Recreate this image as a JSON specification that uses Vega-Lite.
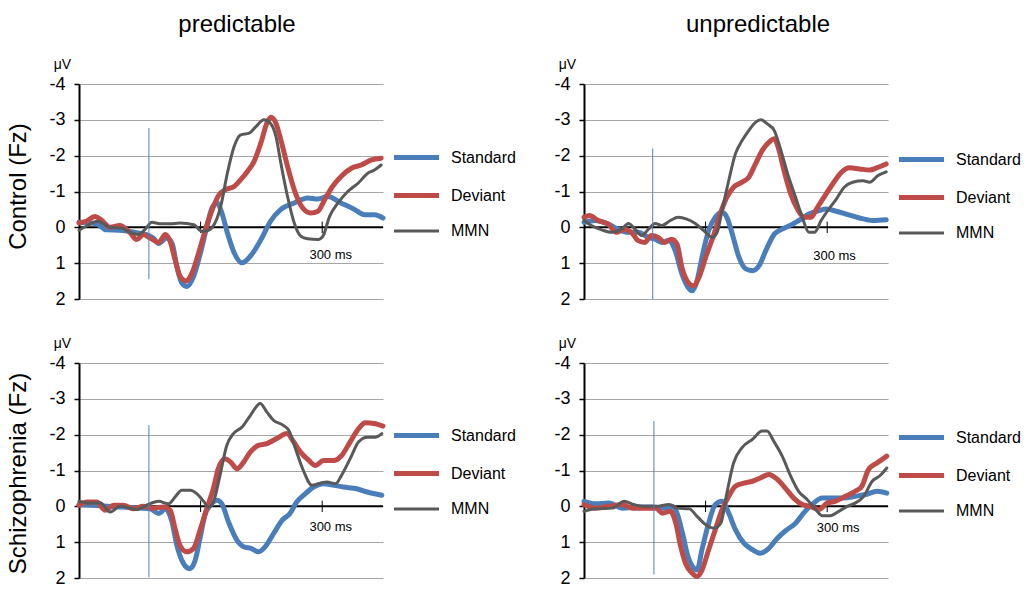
{
"$schema": "https://vega.github.io/schema/vega-lite/v6.json",
"background": "white",
"padding": {"left": 6, "top": 13, "right": 0, "bottom": 0},
"config": {
  "font": "Liberation Sans",
  "view": {"stroke": null},
  "title": {"fontSize": 24, "fontWeight": "normal", "color": "black", "font": "Liberation Sans"},
  "axisY": {"grid": true, "gridColor": "#a6a6a6", "gridWidth": 1, "domainColor": "black", "domainWidth": 2, "tickColor": "black", "tickSize": 5, "tickWidth": 1.5, "labelFontSize": 18, "labelColor": "black", "labelPadding": 9, "labelFont": "Liberation Sans", "titleFont": "Liberation Sans", "titleFontSize": 14, "titleFontWeight": "normal", "titleColor": "black", "titleAngle": 0, "titleX": -17, "titleY": -16, "titleAlign": "center", "titleBaseline": "alphabetic"},
  "legend": {"symbolType": "M-4,0H4", "symbolSize": 127, "labelFontSize": 16, "labelColor": "black", "labelFont": "Liberation Sans", "labelOffset": 26, "rowPadding": 17, "symbolOpacity": 1}
},
"datasets": {"erp": [
{"p":"TL","s":"Standard","t":-100,"v":-0.14},{"p":"TL","s":"Standard","t":-71,"v":-0.1},{"p":"TL","s":"Standard","t":-55,"v":0.07},{"p":"TL","s":"Standard","t":-33,"v":0.08},{"p":"TL","s":"Standard","t":-5,"v":0.15},{"p":"TL","s":"Standard","t":11,"v":0.2},{"p":"TL","s":"Standard","t":22,"v":0.3},{"p":"TL","s":"Standard","t":31,"v":0.45},{"p":"TL","s":"Standard","t":44,"v":0.3},{"p":"TL","s":"Standard","t":53,"v":0.44},{"p":"TL","s":"Standard","t":61,"v":1.1},{"p":"TL","s":"Standard","t":69,"v":1.55},{"p":"TL","s":"Standard","t":78,"v":1.65},{"p":"TL","s":"Standard","t":89,"v":1.35},{"p":"TL","s":"Standard","t":100,"v":0.7},{"p":"TL","s":"Standard","t":111,"v":-0.07},{"p":"TL","s":"Standard","t":119,"v":-0.55},{"p":"TL","s":"Standard","t":127,"v":-0.68},{"p":"TL","s":"Standard","t":135,"v":-0.4},{"p":"TL","s":"Standard","t":144,"v":0.15},{"p":"TL","s":"Standard","t":155,"v":0.7},{"p":"TL","s":"Standard","t":168,"v":0.99},{"p":"TL","s":"Standard","t":182,"v":0.8},{"p":"TL","s":"Standard","t":199,"v":0.35},{"p":"TL","s":"Standard","t":215,"v":-0.17},{"p":"TL","s":"Standard","t":232,"v":-0.5},{"p":"TL","s":"Standard","t":254,"v":-0.68},{"p":"TL","s":"Standard","t":276,"v":-0.82},{"p":"TL","s":"Standard","t":293,"v":-0.79},{"p":"TL","s":"Standard","t":309,"v":-0.86},{"p":"TL","s":"Standard","t":331,"v":-0.68},{"p":"TL","s":"Standard","t":353,"v":-0.5},{"p":"TL","s":"Standard","t":370,"v":-0.35},{"p":"TL","s":"Standard","t":386,"v":-0.35},{"p":"TL","s":"Standard","t":400,"v":-0.26},
{"p":"TL","s":"Deviant","t":-100,"v":-0.12},{"p":"TL","s":"Deviant","t":-88,"v":-0.17},{"p":"TL","s":"Deviant","t":-74,"v":-0.3},{"p":"TL","s":"Deviant","t":-63,"v":-0.2},{"p":"TL","s":"Deviant","t":-49,"v":0},{"p":"TL","s":"Deviant","t":-33,"v":-0.05},{"p":"TL","s":"Deviant","t":-16,"v":0.15},{"p":"TL","s":"Deviant","t":-5,"v":0.34},{"p":"TL","s":"Deviant","t":6,"v":0.2},{"p":"TL","s":"Deviant","t":17,"v":0.3},{"p":"TL","s":"Deviant","t":31,"v":0.42},{"p":"TL","s":"Deviant","t":42,"v":0.2},{"p":"TL","s":"Deviant","t":50,"v":0.4},{"p":"TL","s":"Deviant","t":58,"v":0.9},{"p":"TL","s":"Deviant","t":66,"v":1.36},{"p":"TL","s":"Deviant","t":76,"v":1.5},{"p":"TL","s":"Deviant","t":86,"v":1.27},{"p":"TL","s":"Deviant","t":97,"v":0.7},{"p":"TL","s":"Deviant","t":108,"v":0.06},{"p":"TL","s":"Deviant","t":119,"v":-0.49},{"p":"TL","s":"Deviant","t":130,"v":-0.9},{"p":"TL","s":"Deviant","t":141,"v":-1.05},{"p":"TL","s":"Deviant","t":155,"v":-1.14},{"p":"TL","s":"Deviant","t":166,"v":-1.33},{"p":"TL","s":"Deviant","t":177,"v":-1.56},{"p":"TL","s":"Deviant","t":188,"v":-1.84},{"p":"TL","s":"Deviant","t":199,"v":-2.35},{"p":"TL","s":"Deviant","t":210,"v":-2.95},{"p":"TL","s":"Deviant","t":216,"v":-3.07},{"p":"TL","s":"Deviant","t":224,"v":-2.9},{"p":"TL","s":"Deviant","t":232,"v":-2.44},{"p":"TL","s":"Deviant","t":243,"v":-1.7},{"p":"TL","s":"Deviant","t":254,"v":-1.05},{"p":"TL","s":"Deviant","t":268,"v":-0.54},{"p":"TL","s":"Deviant","t":281,"v":-0.4},{"p":"TL","s":"Deviant","t":293,"v":-0.45},{"p":"TL","s":"Deviant","t":304,"v":-0.77},{"p":"TL","s":"Deviant","t":317,"v":-1.14},{"p":"TL","s":"Deviant","t":331,"v":-1.42},{"p":"TL","s":"Deviant","t":348,"v":-1.65},{"p":"TL","s":"Deviant","t":364,"v":-1.74},{"p":"TL","s":"Deviant","t":381,"v":-1.88},{"p":"TL","s":"Deviant","t":397,"v":-1.93},
{"p":"TL","s":"MMN","t":-100,"v":0.08},{"p":"TL","s":"MMN","t":-88,"v":-0.03},{"p":"TL","s":"MMN","t":-69,"v":-0.17},{"p":"TL","s":"MMN","t":-49,"v":0},{"p":"TL","s":"MMN","t":-30,"v":0.02},{"p":"TL","s":"MMN","t":-16,"v":0.14},{"p":"TL","s":"MMN","t":-2,"v":0.2},{"p":"TL","s":"MMN","t":9,"v":0.05},{"p":"TL","s":"MMN","t":20,"v":-0.14},{"p":"TL","s":"MMN","t":33,"v":-0.1},{"p":"TL","s":"MMN","t":50,"v":-0.1},{"p":"TL","s":"MMN","t":66,"v":-0.12},{"p":"TL","s":"MMN","t":89,"v":-0.07},{"p":"TL","s":"MMN","t":102,"v":0.11},{"p":"TL","s":"MMN","t":113,"v":0.08},{"p":"TL","s":"MMN","t":122,"v":-0.07},{"p":"TL","s":"MMN","t":133,"v":-0.58},{"p":"TL","s":"MMN","t":144,"v":-1.51},{"p":"TL","s":"MMN","t":155,"v":-2.25},{"p":"TL","s":"MMN","t":166,"v":-2.58},{"p":"TL","s":"MMN","t":180,"v":-2.63},{"p":"TL","s":"MMN","t":191,"v":-2.81},{"p":"TL","s":"MMN","t":204,"v":-3.0},{"p":"TL","s":"MMN","t":215,"v":-2.9},{"p":"TL","s":"MMN","t":224,"v":-2.53},{"p":"TL","s":"MMN","t":232,"v":-1.79},{"p":"TL","s":"MMN","t":243,"v":-0.86},{"p":"TL","s":"MMN","t":254,"v":-0.12},{"p":"TL","s":"MMN","t":265,"v":0.25},{"p":"TL","s":"MMN","t":276,"v":0.32},{"p":"TL","s":"MMN","t":293,"v":0.34},{"p":"TL","s":"MMN","t":301,"v":0.25},{"p":"TL","s":"MMN","t":312,"v":-0.3},{"p":"TL","s":"MMN","t":326,"v":-0.68},{"p":"TL","s":"MMN","t":342,"v":-1.0},{"p":"TL","s":"MMN","t":359,"v":-1.23},{"p":"TL","s":"MMN","t":375,"v":-1.51},{"p":"TL","s":"MMN","t":386,"v":-1.6},{"p":"TL","s":"MMN","t":397,"v":-1.74},
{"p":"TR","s":"Standard","t":-100,"v":-0.14},{"p":"TR","s":"Standard","t":-82,"v":-0.19},{"p":"TR","s":"Standard","t":-60,"v":-0.09},{"p":"TR","s":"Standard","t":-44,"v":0.05},{"p":"TR","s":"Standard","t":-27,"v":0.14},{"p":"TR","s":"Standard","t":-11,"v":0.14},{"p":"TR","s":"Standard","t":6,"v":0.28},{"p":"TR","s":"Standard","t":17,"v":0.33},{"p":"TR","s":"Standard","t":28,"v":0.42},{"p":"TR","s":"Standard","t":39,"v":0.37},{"p":"TR","s":"Standard","t":50,"v":0.65},{"p":"TR","s":"Standard","t":61,"v":1.3},{"p":"TR","s":"Standard","t":71,"v":1.67},{"p":"TR","s":"Standard","t":78,"v":1.77},{"p":"TR","s":"Standard","t":86,"v":1.49},{"p":"TR","s":"Standard","t":94,"v":0.84},{"p":"TR","s":"Standard","t":105,"v":0.09},{"p":"TR","s":"Standard","t":116,"v":-0.28},{"p":"TR","s":"Standard","t":127,"v":-0.42},{"p":"TR","s":"Standard","t":135,"v":-0.28},{"p":"TR","s":"Standard","t":144,"v":0.19},{"p":"TR","s":"Standard","t":155,"v":0.84},{"p":"TR","s":"Standard","t":166,"v":1.16},{"p":"TR","s":"Standard","t":177,"v":1.21},{"p":"TR","s":"Standard","t":188,"v":1.07},{"p":"TR","s":"Standard","t":199,"v":0.65},{"p":"TR","s":"Standard","t":213,"v":0.19},{"p":"TR","s":"Standard","t":226,"v":0.05},{"p":"TR","s":"Standard","t":243,"v":-0.09},{"p":"TR","s":"Standard","t":257,"v":-0.23},{"p":"TR","s":"Standard","t":270,"v":-0.37},{"p":"TR","s":"Standard","t":287,"v":-0.47},{"p":"TR","s":"Standard","t":298,"v":-0.51},{"p":"TR","s":"Standard","t":315,"v":-0.45},{"p":"TR","s":"Standard","t":331,"v":-0.37},{"p":"TR","s":"Standard","t":353,"v":-0.26},{"p":"TR","s":"Standard","t":375,"v":-0.19},{"p":"TR","s":"Standard","t":397,"v":-0.21},
{"p":"TR","s":"Deviant","t":-100,"v":-0.28},{"p":"TR","s":"Deviant","t":-91,"v":-0.33},{"p":"TR","s":"Deviant","t":-77,"v":-0.19},{"p":"TR","s":"Deviant","t":-60,"v":-0.09},{"p":"TR","s":"Deviant","t":-47,"v":0.14},{"p":"TR","s":"Deviant","t":-33,"v":0.05},{"p":"TR","s":"Deviant","t":-22,"v":0.14},{"p":"TR","s":"Deviant","t":-11,"v":0.37},{"p":"TR","s":"Deviant","t":0,"v":0.42},{"p":"TR","s":"Deviant","t":11,"v":0.23},{"p":"TR","s":"Deviant","t":22,"v":0.28},{"p":"TR","s":"Deviant","t":33,"v":0.42},{"p":"TR","s":"Deviant","t":44,"v":0.33},{"p":"TR","s":"Deviant","t":53,"v":0.47},{"p":"TR","s":"Deviant","t":61,"v":1.12},{"p":"TR","s":"Deviant","t":71,"v":1.53},{"p":"TR","s":"Deviant","t":80,"v":1.63},{"p":"TR","s":"Deviant","t":89,"v":1.4},{"p":"TR","s":"Deviant","t":100,"v":0.84},{"p":"TR","s":"Deviant","t":113,"v":0.23},{"p":"TR","s":"Deviant","t":124,"v":-0.37},{"p":"TR","s":"Deviant","t":135,"v":-0.84},{"p":"TR","s":"Deviant","t":146,"v":-1.12},{"p":"TR","s":"Deviant","t":160,"v":-1.26},{"p":"TR","s":"Deviant","t":171,"v":-1.4},{"p":"TR","s":"Deviant","t":182,"v":-1.77},{"p":"TR","s":"Deviant","t":193,"v":-2.14},{"p":"TR","s":"Deviant","t":204,"v":-2.37},{"p":"TR","s":"Deviant","t":213,"v":-2.47},{"p":"TR","s":"Deviant","t":221,"v":-2.14},{"p":"TR","s":"Deviant","t":229,"v":-1.58},{"p":"TR","s":"Deviant","t":240,"v":-0.93},{"p":"TR","s":"Deviant","t":251,"v":-0.51},{"p":"TR","s":"Deviant","t":262,"v":-0.28},{"p":"TR","s":"Deviant","t":273,"v":-0.28},{"p":"TR","s":"Deviant","t":284,"v":-0.56},{"p":"TR","s":"Deviant","t":298,"v":-0.93},{"p":"TR","s":"Deviant","t":309,"v":-1.21},{"p":"TR","s":"Deviant","t":323,"v":-1.53},{"p":"TR","s":"Deviant","t":337,"v":-1.66},{"p":"TR","s":"Deviant","t":353,"v":-1.63},{"p":"TR","s":"Deviant","t":370,"v":-1.6},{"p":"TR","s":"Deviant","t":383,"v":-1.67},{"p":"TR","s":"Deviant","t":397,"v":-1.77},
{"p":"TR","s":"MMN","t":-100,"v":-0.19},{"p":"TR","s":"MMN","t":-88,"v":-0.05},{"p":"TR","s":"MMN","t":-71,"v":0.07},{"p":"TR","s":"MMN","t":-55,"v":0.14},{"p":"TR","s":"MMN","t":-38,"v":0.05},{"p":"TR","s":"MMN","t":-27,"v":-0.11},{"p":"TR","s":"MMN","t":-16,"v":0.05},{"p":"TR","s":"MMN","t":-5,"v":0.23},{"p":"TR","s":"MMN","t":6,"v":0.05},{"p":"TR","s":"MMN","t":17,"v":-0.11},{"p":"TR","s":"MMN","t":28,"v":-0.05},{"p":"TR","s":"MMN","t":42,"v":-0.19},{"p":"TR","s":"MMN","t":55,"v":-0.28},{"p":"TR","s":"MMN","t":69,"v":-0.23},{"p":"TR","s":"MMN","t":83,"v":-0.11},{"p":"TR","s":"MMN","t":97,"v":0.09},{"p":"TR","s":"MMN","t":111,"v":0.28},{"p":"TR","s":"MMN","t":119,"v":0.14},{"p":"TR","s":"MMN","t":127,"v":-0.47},{"p":"TR","s":"MMN","t":138,"v":-1.3},{"p":"TR","s":"MMN","t":149,"v":-2.05},{"p":"TR","s":"MMN","t":160,"v":-2.42},{"p":"TR","s":"MMN","t":171,"v":-2.7},{"p":"TR","s":"MMN","t":182,"v":-2.93},{"p":"TR","s":"MMN","t":191,"v":-3.0},{"p":"TR","s":"MMN","t":202,"v":-2.88},{"p":"TR","s":"MMN","t":213,"v":-2.7},{"p":"TR","s":"MMN","t":224,"v":-2.14},{"p":"TR","s":"MMN","t":235,"v":-1.49},{"p":"TR","s":"MMN","t":248,"v":-0.84},{"p":"TR","s":"MMN","t":259,"v":-0.28},{"p":"TR","s":"MMN","t":270,"v":0.14},{"p":"TR","s":"MMN","t":279,"v":0.14},{"p":"TR","s":"MMN","t":290,"v":-0.19},{"p":"TR","s":"MMN","t":301,"v":-0.47},{"p":"TR","s":"MMN","t":315,"v":-0.79},{"p":"TR","s":"MMN","t":328,"v":-1.12},{"p":"TR","s":"MMN","t":342,"v":-1.26},{"p":"TR","s":"MMN","t":359,"v":-1.3},{"p":"TR","s":"MMN","t":370,"v":-1.26},{"p":"TR","s":"MMN","t":383,"v":-1.44},{"p":"TR","s":"MMN","t":397,"v":-1.55},
{"p":"BL","s":"Standard","t":-100,"v":-0.05},{"p":"BL","s":"Standard","t":-76,"v":-0.03},{"p":"BL","s":"Standard","t":-54,"v":0},{"p":"BL","s":"Standard","t":-27,"v":0.02},{"p":"BL","s":"Standard","t":0,"v":0.05},{"p":"BL","s":"Standard","t":17,"v":0.07},{"p":"BL","s":"Standard","t":31,"v":0.2},{"p":"BL","s":"Standard","t":42,"v":0.07},{"p":"BL","s":"Standard","t":53,"v":0.44},{"p":"BL","s":"Standard","t":61,"v":1.09},{"p":"BL","s":"Standard","t":72,"v":1.6},{"p":"BL","s":"Standard","t":82,"v":1.74},{"p":"BL","s":"Standard","t":91,"v":1.51},{"p":"BL","s":"Standard","t":99,"v":0.9},{"p":"BL","s":"Standard","t":107,"v":0.25},{"p":"BL","s":"Standard","t":116,"v":-0.03},{"p":"BL","s":"Standard","t":127,"v":-0.17},{"p":"BL","s":"Standard","t":135,"v":-0.07},{"p":"BL","s":"Standard","t":146,"v":0.44},{"p":"BL","s":"Standard","t":160,"v":0.95},{"p":"BL","s":"Standard","t":171,"v":1.13},{"p":"BL","s":"Standard","t":184,"v":1.18},{"p":"BL","s":"Standard","t":195,"v":1.27},{"p":"BL","s":"Standard","t":206,"v":1.13},{"p":"BL","s":"Standard","t":220,"v":0.76},{"p":"BL","s":"Standard","t":234,"v":0.39},{"p":"BL","s":"Standard","t":247,"v":0.2},{"p":"BL","s":"Standard","t":258,"v":-0.12},{"p":"BL","s":"Standard","t":272,"v":-0.35},{"p":"BL","s":"Standard","t":286,"v":-0.54},{"p":"BL","s":"Standard","t":302,"v":-0.63},{"p":"BL","s":"Standard","t":319,"v":-0.59},{"p":"BL","s":"Standard","t":335,"v":-0.54},{"p":"BL","s":"Standard","t":357,"v":-0.49},{"p":"BL","s":"Standard","t":374,"v":-0.4},{"p":"BL","s":"Standard","t":398,"v":-0.31},
{"p":"BL","s":"Deviant","t":-100,"v":-0.03},{"p":"BL","s":"Deviant","t":-87,"v":-0.12},{"p":"BL","s":"Deviant","t":-71,"v":-0.12},{"p":"BL","s":"Deviant","t":-57,"v":0.11},{"p":"BL","s":"Deviant","t":-43,"v":-0.03},{"p":"BL","s":"Deviant","t":-27,"v":-0.03},{"p":"BL","s":"Deviant","t":-11,"v":0.07},{"p":"BL","s":"Deviant","t":6,"v":0},{"p":"BL","s":"Deviant","t":22,"v":0.05},{"p":"BL","s":"Deviant","t":39,"v":0.02},{"p":"BL","s":"Deviant","t":50,"v":0.11},{"p":"BL","s":"Deviant","t":58,"v":0.62},{"p":"BL","s":"Deviant","t":66,"v":1.09},{"p":"BL","s":"Deviant","t":77,"v":1.27},{"p":"BL","s":"Deviant","t":88,"v":1.18},{"p":"BL","s":"Deviant","t":99,"v":0.67},{"p":"BL","s":"Deviant","t":110,"v":0.07},{"p":"BL","s":"Deviant","t":121,"v":-0.49},{"p":"BL","s":"Deviant","t":129,"v":-1.05},{"p":"BL","s":"Deviant","t":140,"v":-1.33},{"p":"BL","s":"Deviant","t":149,"v":-1.24},{"p":"BL","s":"Deviant","t":160,"v":-1.05},{"p":"BL","s":"Deviant","t":171,"v":-1.24},{"p":"BL","s":"Deviant","t":182,"v":-1.52},{"p":"BL","s":"Deviant","t":195,"v":-1.7},{"p":"BL","s":"Deviant","t":209,"v":-1.75},{"p":"BL","s":"Deviant","t":225,"v":-1.89},{"p":"BL","s":"Deviant","t":242,"v":-2.03},{"p":"BL","s":"Deviant","t":253,"v":-1.8},{"p":"BL","s":"Deviant","t":264,"v":-1.52},{"p":"BL","s":"Deviant","t":278,"v":-1.28},{"p":"BL","s":"Deviant","t":289,"v":-1.14},{"p":"BL","s":"Deviant","t":302,"v":-1.28},{"p":"BL","s":"Deviant","t":319,"v":-1.28},{"p":"BL","s":"Deviant","t":332,"v":-1.42},{"p":"BL","s":"Deviant","t":346,"v":-1.8},{"p":"BL","s":"Deviant","t":360,"v":-2.17},{"p":"BL","s":"Deviant","t":371,"v":-2.33},{"p":"BL","s":"Deviant","t":385,"v":-2.31},{"p":"BL","s":"Deviant","t":400,"v":-2.24},
{"p":"BL","s":"MMN","t":-100,"v":-0.14},{"p":"BL","s":"MMN","t":-82,"v":-0.09},{"p":"BL","s":"MMN","t":-65,"v":-0.1},{"p":"BL","s":"MMN","t":-49,"v":0.16},{"p":"BL","s":"MMN","t":-32,"v":0},{"p":"BL","s":"MMN","t":-16,"v":0.05},{"p":"BL","s":"MMN","t":-5,"v":0.09},{"p":"BL","s":"MMN","t":11,"v":-0.03},{"p":"BL","s":"MMN","t":31,"v":-0.14},{"p":"BL","s":"MMN","t":47,"v":-0.07},{"p":"BL","s":"MMN","t":58,"v":-0.26},{"p":"BL","s":"MMN","t":69,"v":-0.45},{"p":"BL","s":"MMN","t":83,"v":-0.45},{"p":"BL","s":"MMN","t":94,"v":-0.35},{"p":"BL","s":"MMN","t":105,"v":-0.14},{"p":"BL","s":"MMN","t":113,"v":0.02},{"p":"BL","s":"MMN","t":121,"v":-0.12},{"p":"BL","s":"MMN","t":132,"v":-0.87},{"p":"BL","s":"MMN","t":143,"v":-1.7},{"p":"BL","s":"MMN","t":154,"v":-2.03},{"p":"BL","s":"MMN","t":168,"v":-2.21},{"p":"BL","s":"MMN","t":182,"v":-2.54},{"p":"BL","s":"MMN","t":198,"v":-2.87},{"p":"BL","s":"MMN","t":209,"v":-2.63},{"p":"BL","s":"MMN","t":220,"v":-2.4},{"p":"BL","s":"MMN","t":234,"v":-2.28},{"p":"BL","s":"MMN","t":245,"v":-2.12},{"p":"BL","s":"MMN","t":256,"v":-1.61},{"p":"BL","s":"MMN","t":269,"v":-1.0},{"p":"BL","s":"MMN","t":283,"v":-0.59},{"p":"BL","s":"MMN","t":294,"v":-0.63},{"p":"BL","s":"MMN","t":308,"v":-0.68},{"p":"BL","s":"MMN","t":322,"v":-0.63},{"p":"BL","s":"MMN","t":332,"v":-0.87},{"p":"BL","s":"MMN","t":346,"v":-1.33},{"p":"BL","s":"MMN","t":360,"v":-1.8},{"p":"BL","s":"MMN","t":374,"v":-1.93},{"p":"BL","s":"MMN","t":387,"v":-1.93},{"p":"BL","s":"MMN","t":398,"v":-2.03},
{"p":"BR","s":"Standard","t":-100,"v":-0.14},{"p":"BR","s":"Standard","t":-81,"v":-0.07},{"p":"BR","s":"Standard","t":-59,"v":-0.09},{"p":"BR","s":"Standard","t":-37,"v":0.05},{"p":"BR","s":"Standard","t":-10,"v":0.02},{"p":"BR","s":"Standard","t":12,"v":0.02},{"p":"BR","s":"Standard","t":29,"v":0.05},{"p":"BR","s":"Standard","t":45,"v":0},{"p":"BR","s":"Standard","t":53,"v":0.19},{"p":"BR","s":"Standard","t":62,"v":0.75},{"p":"BR","s":"Standard","t":71,"v":1.4},{"p":"BR","s":"Standard","t":81,"v":1.73},{"p":"BR","s":"Standard","t":86,"v":1.78},{"p":"BR","s":"Standard","t":94,"v":1.21},{"p":"BR","s":"Standard","t":105,"v":0.47},{"p":"BR","s":"Standard","t":116,"v":-0.05},{"p":"BR","s":"Standard","t":127,"v":-0.14},{"p":"BR","s":"Standard","t":138,"v":0.19},{"p":"BR","s":"Standard","t":149,"v":0.65},{"p":"BR","s":"Standard","t":163,"v":1.03},{"p":"BR","s":"Standard","t":177,"v":1.21},{"p":"BR","s":"Standard","t":190,"v":1.31},{"p":"BR","s":"Standard","t":204,"v":1.17},{"p":"BR","s":"Standard","t":218,"v":0.89},{"p":"BR","s":"Standard","t":234,"v":0.65},{"p":"BR","s":"Standard","t":248,"v":0.47},{"p":"BR","s":"Standard","t":261,"v":0.19},{"p":"BR","s":"Standard","t":275,"v":-0.05},{"p":"BR","s":"Standard","t":292,"v":-0.23},{"p":"BR","s":"Standard","t":308,"v":-0.23},{"p":"BR","s":"Standard","t":327,"v":-0.23},{"p":"BR","s":"Standard","t":346,"v":-0.28},{"p":"BR","s":"Standard","t":363,"v":-0.33},{"p":"BR","s":"Standard","t":382,"v":-0.42},{"p":"BR","s":"Standard","t":398,"v":-0.37},
{"p":"BR","s":"Deviant","t":-100,"v":-0.05},{"p":"BR","s":"Deviant","t":-81,"v":0.05},{"p":"BR","s":"Deviant","t":-59,"v":0},{"p":"BR","s":"Deviant","t":-37,"v":-0.05},{"p":"BR","s":"Deviant","t":-21,"v":0.05},{"p":"BR","s":"Deviant","t":1,"v":0.05},{"p":"BR","s":"Deviant","t":18,"v":0.05},{"p":"BR","s":"Deviant","t":29,"v":0.19},{"p":"BR","s":"Deviant","t":42,"v":0.14},{"p":"BR","s":"Deviant","t":51,"v":0.47},{"p":"BR","s":"Deviant","t":59,"v":1.12},{"p":"BR","s":"Deviant","t":67,"v":1.59},{"p":"BR","s":"Deviant","t":78,"v":1.87},{"p":"BR","s":"Deviant","t":86,"v":1.96},{"p":"BR","s":"Deviant","t":94,"v":1.78},{"p":"BR","s":"Deviant","t":105,"v":1.21},{"p":"BR","s":"Deviant","t":116,"v":0.65},{"p":"BR","s":"Deviant","t":127,"v":0.09},{"p":"BR","s":"Deviant","t":138,"v":-0.28},{"p":"BR","s":"Deviant","t":149,"v":-0.56},{"p":"BR","s":"Deviant","t":163,"v":-0.65},{"p":"BR","s":"Deviant","t":177,"v":-0.7},{"p":"BR","s":"Deviant","t":190,"v":-0.79},{"p":"BR","s":"Deviant","t":204,"v":-0.89},{"p":"BR","s":"Deviant","t":218,"v":-0.75},{"p":"BR","s":"Deviant","t":231,"v":-0.51},{"p":"BR","s":"Deviant","t":245,"v":-0.23},{"p":"BR","s":"Deviant","t":259,"v":-0.05},{"p":"BR","s":"Deviant","t":272,"v":0},{"p":"BR","s":"Deviant","t":286,"v":0.09},{"p":"BR","s":"Deviant","t":300,"v":-0.09},{"p":"BR","s":"Deviant","t":313,"v":-0.14},{"p":"BR","s":"Deviant","t":330,"v":-0.28},{"p":"BR","s":"Deviant","t":346,"v":-0.42},{"p":"BR","s":"Deviant","t":357,"v":-0.56},{"p":"BR","s":"Deviant","t":368,"v":-1.03},{"p":"BR","s":"Deviant","t":382,"v":-1.21},{"p":"BR","s":"Deviant","t":398,"v":-1.4},
{"p":"BR","s":"MMN","t":-100,"v":0.14},{"p":"BR","s":"MMN","t":-81,"v":0.07},{"p":"BR","s":"MMN","t":-53,"v":0.05},{"p":"BR","s":"MMN","t":-34,"v":-0.14},{"p":"BR","s":"MMN","t":-18,"v":-0.05},{"p":"BR","s":"MMN","t":-1,"v":0},{"p":"BR","s":"MMN","t":18,"v":0},{"p":"BR","s":"MMN","t":40,"v":-0.05},{"p":"BR","s":"MMN","t":53,"v":0.05},{"p":"BR","s":"MMN","t":73,"v":0.07},{"p":"BR","s":"MMN","t":86,"v":0.28},{"p":"BR","s":"MMN","t":100,"v":0.51},{"p":"BR","s":"MMN","t":114,"v":0.61},{"p":"BR","s":"MMN","t":125,"v":0.47},{"p":"BR","s":"MMN","t":135,"v":-0.37},{"p":"BR","s":"MMN","t":146,"v":-1.21},{"p":"BR","s":"MMN","t":160,"v":-1.64},{"p":"BR","s":"MMN","t":177,"v":-1.87},{"p":"BR","s":"MMN","t":193,"v":-2.1},{"p":"BR","s":"MMN","t":201,"v":-2.1},{"p":"BR","s":"MMN","t":212,"v":-1.82},{"p":"BR","s":"MMN","t":226,"v":-1.4},{"p":"BR","s":"MMN","t":240,"v":-0.84},{"p":"BR","s":"MMN","t":253,"v":-0.42},{"p":"BR","s":"MMN","t":267,"v":-0.19},{"p":"BR","s":"MMN","t":281,"v":0.09},{"p":"BR","s":"MMN","t":292,"v":0.26},{"p":"BR","s":"MMN","t":305,"v":0.26},{"p":"BR","s":"MMN","t":319,"v":0.14},{"p":"BR","s":"MMN","t":333,"v":0},{"p":"BR","s":"MMN","t":346,"v":-0.09},{"p":"BR","s":"MMN","t":360,"v":-0.28},{"p":"BR","s":"MMN","t":374,"v":-0.7},{"p":"BR","s":"MMN","t":387,"v":-0.86},{"p":"BR","s":"MMN","t":398,"v":-1.07}
]},
"resolve": {"scale": {"color": "independent", "strokeWidth": "independent"}, "legend": {"color": "independent", "strokeWidth": "independent"}},
"spacing": 28,
"vconcat": [
{
  "title": {"text": "Control (Fz)", "orient": "left", "anchor": "middle", "offset": 18, "dx": -26},
  "spacing": 37,
  "resolve": {"scale": {"color": "independent", "strokeWidth": "independent"}, "legend": {"color": "independent", "strokeWidth": "independent"}},
  "hconcat": [
    {
      "width": 304, "height": 215,
      "title": {"text": "predictable", "frame": "group", "dx": 6, "offset": 20},
      "layer": [
        {"data": {"values": [{}]}, "mark": {"type": "rule", "color": "black", "strokeWidth": 2}, "encoding": {"y": {"datum": 0, "type": "quantitative", "scale": {"domain": [-4, 2], "reverse": true, "nice": false, "zero": false}, "axis": {"values": [-4, -3, -2, -1, 0, 1, 2], "labelExpr": "datum.value + ''", "title": "μV"}}}},
        {"data": {"values": [{"t": 100}, {"t": 300}]}, "mark": {"type": "rule", "color": "black", "strokeWidth": 1}, "encoding": {"x": {"field": "t", "type": "quantitative", "scale": {"domain": [-100, 400], "nice": false, "zero": false}, "axis": null}, "y": {"datum": -0.16, "type": "quantitative", "scale": {"domain": [-4, 2], "reverse": true, "nice": false, "zero": false}, "axis": {"values": [-4, -3, -2, -1, 0, 1, 2], "labelExpr": "datum.value + ''", "title": "μV"}}, "y2": {"datum": 0.16}}},
        {"data": {"values": [{}]}, "mark": {"type": "text", "fontSize": 13, "color": "black", "font": "Liberation Sans"}, "encoding": {"x": {"datum": 314, "type": "quantitative", "scale": {"domain": [-100, 400], "nice": false, "zero": false}, "axis": null}, "y": {"datum": 0.76, "type": "quantitative", "scale": {"domain": [-4, 2], "reverse": true, "nice": false, "zero": false}, "axis": {"values": [-4, -3, -2, -1, 0, 1, 2], "labelExpr": "datum.value + ''", "title": "μV"}}, "text": {"value": "300 ms"}}},
        {"data": {"name": "erp"}, "transform": [{"filter": "datum.p == 'TL'"}], "mark": {"type": "line", "interpolate": "monotone", "strokeCap": "round", "strokeJoin": "round"},
         "encoding": {
          "x": {"field": "t", "type": "quantitative", "scale": {"domain": [-100, 400], "nice": false, "zero": false}, "axis": null},
          "y": {"field": "v", "type": "quantitative", "scale": {"domain": [-4, 2], "reverse": true, "nice": false, "zero": false}, "axis": {"values": [-4, -3, -2, -1, 0, 1, 2], "labelExpr": "datum.value + ''", "title": "μV"}},
          "color": {"field": "s", "type": "nominal", "scale": {"domain": ["Standard", "Deviant", "MMN"], "range": ["#4A7EBB", "#BE4B48", "#595959"]}, "legend": {"title": null, "orient": "none", "legendX": 329, "legendY": 65}},
          "strokeWidth": {"field": "s", "type": "nominal", "scale": {"type": "ordinal", "domain": ["Standard", "Deviant", "MMN"], "range": [5, 5, 3]}, "legend": {"title": null, "orient": "none", "legendX": 329, "legendY": 65}}
         }},
        {"data": {"values": [{}]}, "mark": {"type": "rule", "color": "#4F81BD", "strokeWidth": 1}, "encoding": {"x": {"datum": 15, "type": "quantitative", "scale": {"domain": [-100, 400], "nice": false, "zero": false}, "axis": null}, "y": {"datum": -2.77, "type": "quantitative", "scale": {"domain": [-4, 2], "reverse": true, "nice": false, "zero": false}, "axis": {"values": [-4, -3, -2, -1, 0, 1, 2], "labelExpr": "datum.value + ''", "title": "μV"}}, "y2": {"datum": 1.45}}}
      ]
    },
    {
      "width": 304, "height": 215,
      "title": {"text": "unpredictable", "frame": "group", "dx": 22, "offset": 20},
      "layer": [
        {"data": {"values": [{}]}, "mark": {"type": "rule", "color": "black", "strokeWidth": 2}, "encoding": {"y": {"datum": 0, "type": "quantitative", "scale": {"domain": [-4, 2], "reverse": true, "nice": false, "zero": false}, "axis": {"values": [-4, -3, -2, -1, 0, 1, 2], "labelExpr": "datum.value + ''", "title": "μV"}}}},
        {"data": {"values": [{"t": 100}, {"t": 300}]}, "mark": {"type": "rule", "color": "black", "strokeWidth": 1}, "encoding": {"x": {"field": "t", "type": "quantitative", "scale": {"domain": [-100, 400], "nice": false, "zero": false}, "axis": null}, "y": {"datum": -0.16, "type": "quantitative", "scale": {"domain": [-4, 2], "reverse": true, "nice": false, "zero": false}, "axis": {"values": [-4, -3, -2, -1, 0, 1, 2], "labelExpr": "datum.value + ''", "title": "μV"}}, "y2": {"datum": 0.16}}},
        {"data": {"values": [{}]}, "mark": {"type": "text", "fontSize": 13, "color": "black", "font": "Liberation Sans"}, "encoding": {"x": {"datum": 312, "type": "quantitative", "scale": {"domain": [-100, 400], "nice": false, "zero": false}, "axis": null}, "y": {"datum": 0.8, "type": "quantitative", "scale": {"domain": [-4, 2], "reverse": true, "nice": false, "zero": false}, "axis": {"values": [-4, -3, -2, -1, 0, 1, 2], "labelExpr": "datum.value + ''", "title": "μV"}}, "text": {"value": "300 ms"}}},
        {"data": {"name": "erp"}, "transform": [{"filter": "datum.p == 'TR'"}], "mark": {"type": "line", "interpolate": "monotone", "strokeCap": "round", "strokeJoin": "round"},
         "encoding": {
          "x": {"field": "t", "type": "quantitative", "scale": {"domain": [-100, 400], "nice": false, "zero": false}, "axis": null},
          "y": {"field": "v", "type": "quantitative", "scale": {"domain": [-4, 2], "reverse": true, "nice": false, "zero": false}, "axis": {"values": [-4, -3, -2, -1, 0, 1, 2], "labelExpr": "datum.value + ''", "title": "μV"}},
          "color": {"field": "s", "type": "nominal", "scale": {"domain": ["Standard", "Deviant", "MMN"], "range": ["#4A7EBB", "#BE4B48", "#595959"]}, "legend": {"title": null, "orient": "none", "legendX": 329, "legendY": 67}},
          "strokeWidth": {"field": "s", "type": "nominal", "scale": {"type": "ordinal", "domain": ["Standard", "Deviant", "MMN"], "range": [5, 5, 3]}, "legend": {"title": null, "orient": "none", "legendX": 329, "legendY": 67}}
         }},
        {"data": {"values": [{}]}, "mark": {"type": "rule", "color": "#4F81BD", "strokeWidth": 1}, "encoding": {"x": {"datum": 13, "type": "quantitative", "scale": {"domain": [-100, 400], "nice": false, "zero": false}, "axis": null}, "y": {"datum": -2.2, "type": "quantitative", "scale": {"domain": [-4, 2], "reverse": true, "nice": false, "zero": false}, "axis": {"values": [-4, -3, -2, -1, 0, 1, 2], "labelExpr": "datum.value + ''", "title": "μV"}}, "y2": {"datum": 2.0}}}
      ]
    }
  ]
},
{
  "title": {"text": "Schizophrenia (Fz)", "orient": "left", "anchor": "middle", "offset": 18, "dx": -12},
  "spacing": 37,
  "resolve": {"scale": {"color": "independent", "strokeWidth": "independent"}, "legend": {"color": "independent", "strokeWidth": "independent"}},
  "hconcat": [
    {
      "width": 304, "height": 215,
      "layer": [
        {"data": {"values": [{}]}, "mark": {"type": "rule", "color": "black", "strokeWidth": 2}, "encoding": {"y": {"datum": 0, "type": "quantitative", "scale": {"domain": [-4, 2], "reverse": true, "nice": false, "zero": false}, "axis": {"values": [-4, -3, -2, -1, 0, 1, 2], "labelExpr": "datum.value + ''", "title": "μV"}}}},
        {"data": {"values": [{"t": 100}, {"t": 300}]}, "mark": {"type": "rule", "color": "black", "strokeWidth": 1}, "encoding": {"x": {"field": "t", "type": "quantitative", "scale": {"domain": [-100, 400], "nice": false, "zero": false}, "axis": null}, "y": {"datum": -0.16, "type": "quantitative", "scale": {"domain": [-4, 2], "reverse": true, "nice": false, "zero": false}, "axis": {"values": [-4, -3, -2, -1, 0, 1, 2], "labelExpr": "datum.value + ''", "title": "μV"}}, "y2": {"datum": 0.16}}},
        {"data": {"values": [{}]}, "mark": {"type": "text", "fontSize": 13, "color": "black", "font": "Liberation Sans"}, "encoding": {"x": {"datum": 314, "type": "quantitative", "scale": {"domain": [-100, 400], "nice": false, "zero": false}, "axis": null}, "y": {"datum": 0.58, "type": "quantitative", "scale": {"domain": [-4, 2], "reverse": true, "nice": false, "zero": false}, "axis": {"values": [-4, -3, -2, -1, 0, 1, 2], "labelExpr": "datum.value + ''", "title": "μV"}}, "text": {"value": "300 ms"}}},
        {"data": {"name": "erp"}, "transform": [{"filter": "datum.p == 'BL'"}], "mark": {"type": "line", "interpolate": "monotone", "strokeCap": "round", "strokeJoin": "round"},
         "encoding": {
          "x": {"field": "t", "type": "quantitative", "scale": {"domain": [-100, 400], "nice": false, "zero": false}, "axis": null},
          "y": {"field": "v", "type": "quantitative", "scale": {"domain": [-4, 2], "reverse": true, "nice": false, "zero": false}, "axis": {"values": [-4, -3, -2, -1, 0, 1, 2], "labelExpr": "datum.value + ''", "title": "μV"}},
          "color": {"field": "s", "type": "nominal", "scale": {"domain": ["Standard", "Deviant", "MMN"], "range": ["#4A7EBB", "#BE4B48", "#595959"]}, "legend": {"title": null, "orient": "none", "legendX": 329, "legendY": 64}},
          "strokeWidth": {"field": "s", "type": "nominal", "scale": {"type": "ordinal", "domain": ["Standard", "Deviant", "MMN"], "range": [5, 5, 3]}, "legend": {"title": null, "orient": "none", "legendX": 329, "legendY": 64}}
         }},
        {"data": {"values": [{}]}, "mark": {"type": "rule", "color": "#4F81BD", "strokeWidth": 1}, "encoding": {"x": {"datum": 15, "type": "quantitative", "scale": {"domain": [-100, 400], "nice": false, "zero": false}, "axis": null}, "y": {"datum": -2.27, "type": "quantitative", "scale": {"domain": [-4, 2], "reverse": true, "nice": false, "zero": false}, "axis": {"values": [-4, -3, -2, -1, 0, 1, 2], "labelExpr": "datum.value + ''", "title": "μV"}}, "y2": {"datum": 1.98}}}
      ]
    },
    {
      "width": 304, "height": 215,
      "layer": [
        {"data": {"values": [{}]}, "mark": {"type": "rule", "color": "black", "strokeWidth": 2}, "encoding": {"y": {"datum": 0, "type": "quantitative", "scale": {"domain": [-4, 2], "reverse": true, "nice": false, "zero": false}, "axis": {"values": [-4, -3, -2, -1, 0, 1, 2], "labelExpr": "datum.value + ''", "title": "μV"}}}},
        {"data": {"values": [{"t": 100}, {"t": 300}]}, "mark": {"type": "rule", "color": "black", "strokeWidth": 1}, "encoding": {"x": {"field": "t", "type": "quantitative", "scale": {"domain": [-100, 400], "nice": false, "zero": false}, "axis": null}, "y": {"datum": -0.16, "type": "quantitative", "scale": {"domain": [-4, 2], "reverse": true, "nice": false, "zero": false}, "axis": {"values": [-4, -3, -2, -1, 0, 1, 2], "labelExpr": "datum.value + ''", "title": "μV"}}, "y2": {"datum": 0.16}}},
        {"data": {"values": [{}]}, "mark": {"type": "text", "fontSize": 13, "color": "black", "font": "Liberation Sans"}, "encoding": {"x": {"datum": 318, "type": "quantitative", "scale": {"domain": [-100, 400], "nice": false, "zero": false}, "axis": null}, "y": {"datum": 0.61, "type": "quantitative", "scale": {"domain": [-4, 2], "reverse": true, "nice": false, "zero": false}, "axis": {"values": [-4, -3, -2, -1, 0, 1, 2], "labelExpr": "datum.value + ''", "title": "μV"}}, "text": {"value": "300 ms"}}},
        {"data": {"name": "erp"}, "transform": [{"filter": "datum.p == 'BR'"}], "mark": {"type": "line", "interpolate": "monotone", "strokeCap": "round", "strokeJoin": "round"},
         "encoding": {
          "x": {"field": "t", "type": "quantitative", "scale": {"domain": [-100, 400], "nice": false, "zero": false}, "axis": null},
          "y": {"field": "v", "type": "quantitative", "scale": {"domain": [-4, 2], "reverse": true, "nice": false, "zero": false}, "axis": {"values": [-4, -3, -2, -1, 0, 1, 2], "labelExpr": "datum.value + ''", "title": "μV"}},
          "color": {"field": "s", "type": "nominal", "scale": {"domain": ["Standard", "Deviant", "MMN"], "range": ["#4A7EBB", "#BE4B48", "#595959"]}, "legend": {"title": null, "orient": "none", "legendX": 329, "legendY": 66}},
          "strokeWidth": {"field": "s", "type": "nominal", "scale": {"type": "ordinal", "domain": ["Standard", "Deviant", "MMN"], "range": [5, 5, 3]}, "legend": {"title": null, "orient": "none", "legendX": 329, "legendY": 66}}
         }},
        {"data": {"values": [{}]}, "mark": {"type": "rule", "color": "#4F81BD", "strokeWidth": 1}, "encoding": {"x": {"datum": 15, "type": "quantitative", "scale": {"domain": [-100, 400], "nice": false, "zero": false}, "axis": null}, "y": {"datum": -2.38, "type": "quantitative", "scale": {"domain": [-4, 2], "reverse": true, "nice": false, "zero": false}, "axis": {"values": [-4, -3, -2, -1, 0, 1, 2], "labelExpr": "datum.value + ''", "title": "μV"}}, "y2": {"datum": 1.9}}}
      ]
    }
  ]
}
]
}
